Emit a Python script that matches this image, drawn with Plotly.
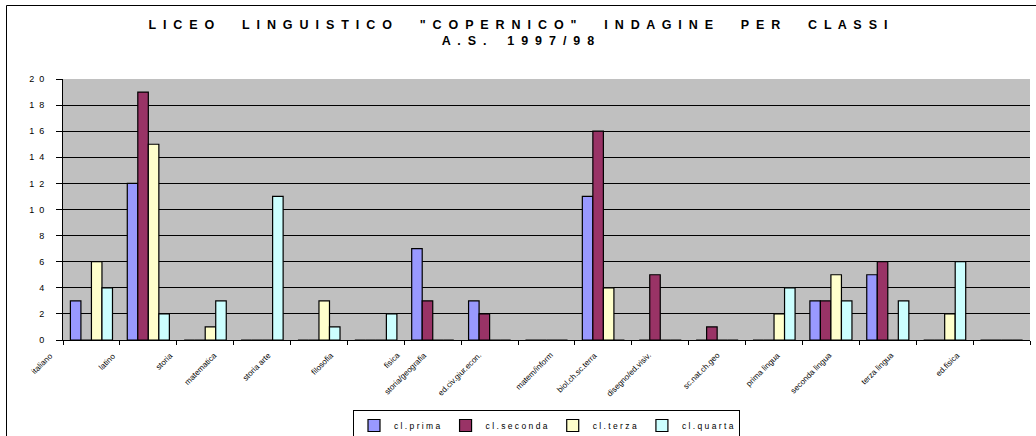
import plotly.graph_objects as go

# ---- data ----
categories = ["italiano", "latino", "storia", "matematica", "storia arte", "filosofia",
              "fisica", "storia/geografia", "ed.civ.giur.econ.", "matem/inform",
              "biol.ch.sc.terra", "disegno/ed.visiv.", "sc.nat.ch.geo", "prima lingua",
              "seconda lingua", "terza lingua", "ed.fisica"]
cl_prima   = [3, 12, 0, 0, 0, 0, 7, 3, 0, 11, 0, 0, 0, 3, 5, 0, 0]
cl_seconda = [0, 19, 0, 0, 0, 0, 3, 2, 0, 16, 5, 1, 0, 3, 6, 0, 0]
cl_terza   = [6, 15, 1, 0, 3, 0, 0, 0, 0, 4, 0, 0, 2, 5, 0, 2, 0]
cl_quarta  = [4, 2, 3, 11, 1, 2, 0, 0, 0, 0, 0, 0, 4, 3, 3, 6, 0]
series_names = ["cl.prima", "cl.seconda", "cl.terza", "cl.quarta"]
y_ticks = [0, 2, 4, 6, 8, 10, 12, 14, 16, 18, 20]
title_line1 = 'LICEO LINGUISTICO "COPERNICO" INDAGINE PER CLASSI'
title_line2 = "A.S. 1997/98"

# ---- styling ----
colors = ["#9999FF", "#993366", "#FFFFCC", "#CCFFFF"]
FONT = "Arial, Liberation Sans, sans-serif"
W, H = 1036, 436
L, R, T, B = 63, 6, 79, 96
PW, PH = W - L - R, H - T - B


def spaced(text, letter_sep=" ", word_sep="   "):
    return word_sep.join(letter_sep.join(list(w)) for w in text.split(" "))


fig = go.Figure()
for name, vals, col in zip(series_names, [cl_prima, cl_seconda, cl_terza, cl_quarta], colors):
    fig.add_trace(go.Bar(
        x=categories, y=vals, name=spaced(name),
        marker=dict(color=col, line=dict(color="black", width=1.2)),
    ))

# rotated category labels (placed like the original, slightly left of each group)
for cat in categories:
    fig.add_annotation(
        x=cat, y=0, xref="x", yref="y",
        text=cat, showarrow=False, textangle=-45,
        xanchor="right", yanchor="top",
        xshift=-(15 + 3 * len(cat)) + 5, yshift=-8,
        font=dict(family=FONT, size=8, color="black"),
    )

title_text = spaced(title_line1, "  ", "        ") + "<br>" + spaced(title_line2, "  ", "      ")

fig.update_layout(
    width=W, height=H,
    margin=dict(l=L, r=R, t=T, b=B, autoexpand=False),
    paper_bgcolor="white",
    plot_bgcolor="#C0C0C0",
    font=dict(family=FONT, size=9, color="black"),
    title=dict(text=title_text, x=0.5, xref="container", xanchor="center",
               y=1 - 29 / H, yref="container", yanchor="top",
               font=dict(family=FONT, size=12.5, color="black", weight="bold")),
    barmode="group", bargap=0.26, bargroupgap=0,
    showlegend=True,
    legend=dict(orientation="h", x=(L + PW / 2) / W, xref="container", xanchor="center",
                y=1 - 410 / H, yref="container", yanchor="top",
                bordercolor="black", borderwidth=1, bgcolor="white",
                font=dict(family=FONT, size=8.5, color="black"),
                itemwidth=30, traceorder="normal"),
    xaxis=dict(type="category", showticklabels=False, showgrid=False, automargin=False,
               showline=True, linecolor="black", linewidth=1,
               ticks="outside", ticklen=4, tickcolor="black", tickson="boundaries",
               range=[-0.5, len(categories) - 0.5]),
    yaxis=dict(range=[0, 20], tickvals=y_ticks, automargin=False,
               ticktext=[spaced(str(v), "  ") for v in y_ticks],
               showgrid=True, gridcolor="black", gridwidth=1,
               showline=True, linecolor="black", linewidth=1,
               ticks="outside", ticklen=6, tickcolor="black",
               ticklabelstandoff=10, zeroline=False,
               tickfont=dict(family=FONT, size=9, color="black")),
)

# outer chart frame (top and left edges visible in the original)
fig.add_shape(type="rect", xref="paper", yref="paper", layer="above",
              x0=(6.5 - L) / PW, x1=(W + 20 - L) / PW,
              y0=(H - B - 5.5) / PH, y1=(H - B - H - 20) / PH,
              line=dict(color="black", width=1), fillcolor="rgba(0,0,0,0)")

fig.write_html("out.html", config={"displayModeBar": False},
               post_script="document.body.style.margin='0px';")
